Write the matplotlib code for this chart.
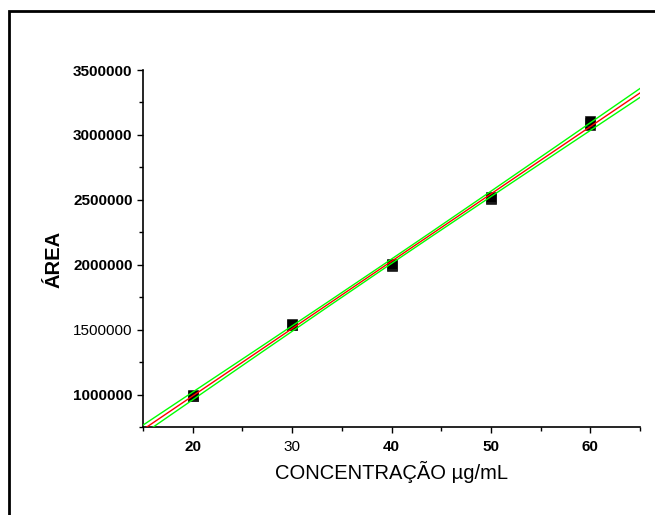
import numpy as np
import matplotlib
matplotlib.use("Agg")
import matplotlib.pyplot as plt
from matplotlib.patches import Rectangle
from matplotlib.ticker import MultipleLocator

# ---- data (triplicate readings) ----
conc = [20, 20, 20, 30, 30, 30, 40, 40, 40, 50, 50, 50, 60, 60, 60]
area = [985000, 990000, 995000,
        1533000, 1538000, 1542000,
        1990000, 1996000, 2003000,
        2505000, 2515000, 2522000,
        3080000, 3095000, 3110000]
x_ticks = [20, 30, 40, 50, 60]
y_ticks = [1000000, 1500000, 2000000, 2500000, 3000000, 3500000]
t_crit = 2.160  # Student t, 95%, df = 13

plt.rcParams['font.family'] = ['Liberation Sans', 'DejaVu Sans']

fig = plt.figure(figsize=(6.55, 5.15), dpi=100)
ax = fig.add_axes([143/655, 1-427/515, (640-143)/655, (427-70)/515])

x = np.asarray(conc, float)
y = np.asarray(area, float)
slope, intercept = np.polyfit(x, y, 1)
n = len(x)
resid = y - (slope*x + intercept)
s = np.sqrt(np.sum(resid**2)/(n-2))
xm = x.mean()
sxx = np.sum((x-xm)**2)
xf = np.linspace(15, 65, 300)
yf = slope*xf + intercept
hw = t_crit*s*np.sqrt(1/n + (xf-xm)**2/sxx)

ax.plot(x, y, 's', color='black', markersize=6.5, markeredgewidth=0.5,
        markeredgecolor='#222222', zorder=2)
ax.plot(xf, yf + hw, color='#00ff00', lw=1.0, zorder=3)
ax.plot(xf, yf - hw, color='#00ff00', lw=1.0, zorder=3)
ax.plot(xf, yf, color='#ff0000', lw=1.0, zorder=4)

ax.set_xlim(15, 65)
ax.set_ylim(750000, 3500000)
ax.set_xticks(x_ticks)
ax.set_yticks(y_ticks)
ax.xaxis.set_minor_locator(MultipleLocator(5))
ax.yaxis.set_minor_locator(MultipleLocator(250000))
ax.set_xticklabels([str(v) for v in x_ticks])
ax.set_yticklabels([str(v) for v in y_ticks])
for lab in ax.get_xticklabels() + ax.get_yticklabels():
    lab.set_fontsize(11)
    lab.set_fontweight('bold')
ax.get_xticklabels()[1].set_fontweight('normal')
ax.get_yticklabels()[1].set_fontweight('normal')

for side in ('top', 'right'):
    ax.spines[side].set_visible(False)
for side in ('left', 'bottom'):
    ax.spines[side].set_linewidth(1.2)
ax.tick_params(which='major', direction='out', length=4.5, width=1.0, pad=5)
ax.tick_params(which='minor', direction='out', length=3, width=1.0)
ax.tick_params(axis='y', which='major', pad=3)

ax.set_xlabel('CONCENTRAÇÃO µg/mL', fontsize=14.5, labelpad=5)
ax.set_ylabel('ÁREA', fontsize=14.5, fontweight='bold')
ax.yaxis.set_label_coords(-0.16, 0.468)

fig.patches.append(Rectangle((9/655, -0.1), 1.2, 1.1 - 11/515,
                             transform=fig.transFigure, fill=False,
                             edgecolor='black', lw=2.0))

fig.savefig('out.png', dpi=100)
